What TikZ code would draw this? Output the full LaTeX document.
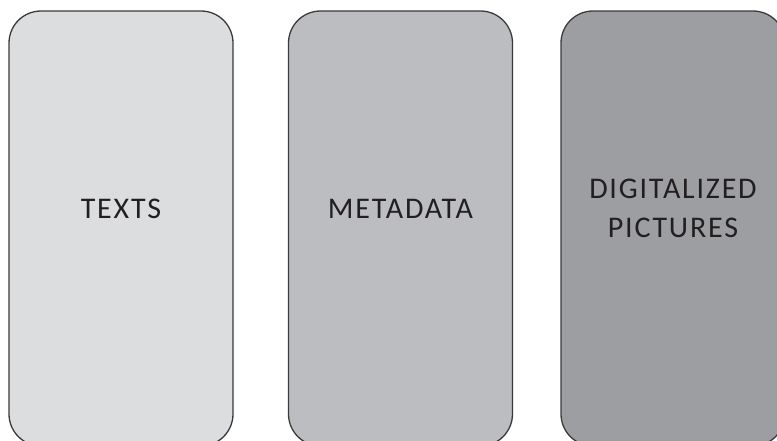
\documentclass[tikz,border=0pt]{standalone}
\usepackage{fontspec}
\setmainfont{Carlito}[LetterSpace=6]
\usepackage{tikz}
\definecolor{panelone}{HTML}{DCDDDF}
\definecolor{paneltwo}{HTML}{BCBDC0}
\definecolor{panelthree}{HTML}{9D9EA1}
\definecolor{edgegray}{HTML}{3A3A3C}
\definecolor{ink}{HTML}{231F20}

\begin{document}
\begin{tikzpicture}[x=1pt,y=-1pt]
\tikzstyle{panel}=[draw=edgegray, line width=1.3pt, rounded corners=32pt, minimum width=224pt, minimum height=435pt, inner sep=0pt]
\tikzstyle{caption}=[text=ink, font=\fontsize{30}{39}\selectfont, inner sep=0pt, align=center]
\useasboundingbox (0,0) rectangle (777,440);
\clip (0,0) rectangle (777,440);
\node [panel, fill=panelone] (textsbox) at (121,228.5) {};
\node [panel, fill=paneltwo] (metabox) at (400.5,228.5) {};
\node [panel, fill=panelthree] (picbox) at (673,228.5) {};
\node [caption, anchor=base] (texts) at (121,218) {TEXTS};
\node [caption, anchor=base] (meta) at (400.5,218) {METADATA};
\node [caption, anchor=center] (pics) at (673,208) {DIGITALIZED\\PICTURES};
\end{tikzpicture}
\end{document}
